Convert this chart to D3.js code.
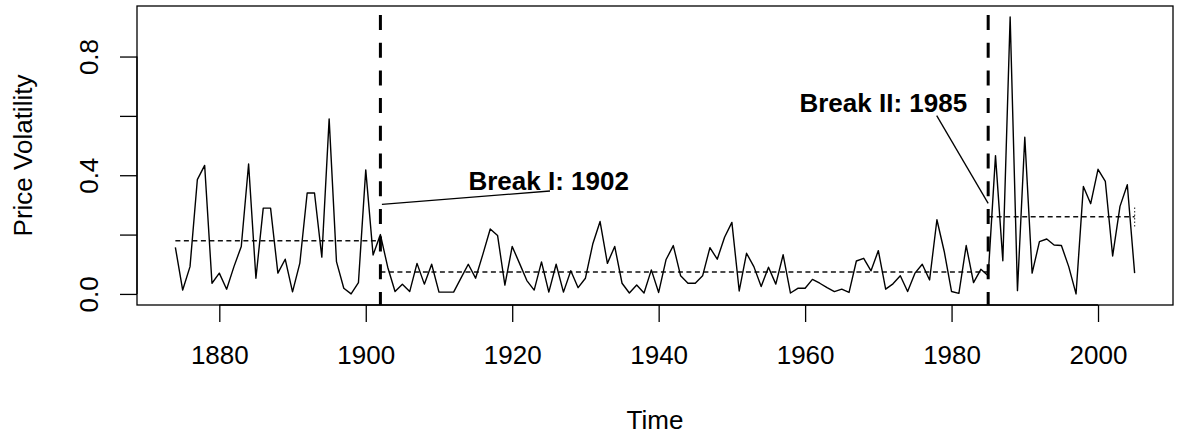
<!DOCTYPE html>
<html>
<head>
<meta charset="utf-8">
<script src="https://cdn.jsdelivr.net/npm/d3@7"></script>
<style>
  html, body { margin: 0; padding: 0; background: #fff; }
  svg { display: block; }
  text { font-family: "Liberation Sans", Arial, Helvetica, sans-serif; fill: #000; }
</style>
</head>
<body>
<svg id="chart" width="1181" height="438"></svg>
<script>
// ---- data ----
const startYear = 1874;
const volatility = [
  0.157, 0.013, 0.092, 0.385, 0.433, 0.036, 0.070, 0.016, 0.092, 0.160, // 1874-1883
  0.438, 0.053, 0.289, 0.289, 0.070, 0.117, 0.007, 0.104, 0.340, 0.340, // 1884-1893
  0.124, 0.590, 0.109, 0.019, 0.000, 0.038, 0.418, 0.131, 0.200, 0.090, // 1894-1903
  0.008, 0.033, 0.008, 0.103, 0.033, 0.100, 0.006, 0.006, 0.006, 0.053, // 1904-1913
  0.100, 0.053, 0.134, 0.219, 0.197, 0.030, 0.160, 0.103, 0.045, 0.013, // 1914-1923
  0.108, 0.006, 0.100, 0.006, 0.078, 0.021, 0.053, 0.168, 0.244, 0.103, // 1924-1933
  0.160, 0.036, 0.003, 0.030, 0.003, 0.081, 0.005, 0.115, 0.163, 0.061, // 1934-1943
  0.036, 0.036, 0.061, 0.156, 0.117, 0.191, 0.241, 0.010, 0.137, 0.092, // 1944-1953
  0.025, 0.090, 0.033, 0.132, 0.003, 0.019, 0.019, 0.049, 0.036, 0.021, // 1954-1963
  0.008, 0.016, 0.005, 0.111, 0.120, 0.078, 0.146, 0.016, 0.034, 0.061, // 1964-1973
  0.008, 0.070, 0.100, 0.047, 0.250, 0.143, 0.008, 0.002, 0.163, 0.038, // 1974-1983
  0.083, 0.061, 0.466, 0.112, 0.933, 0.011, 0.528, 0.070, 0.176, 0.185, // 1984-1993
  0.165, 0.163, 0.092, 0.000, 0.362, 0.304, 0.420, 0.379, 0.128, 0.295, // 1994-2003
  0.368, 0.070                                                          // 2004-2005
];
const breakYears = [1902, 1985];
const breakLabels = ["Break I: 1902", "Break II: 1985"];
const segmentStarts = [1874, 1902, 1985];
const segmentEnds = [1902, 1985, 2005];
const segmentMeans = [0.179, 0.074, 0.260];
const endBand = [0.227, 0.294];   // small dotted interval at the last year
const xTicks = [1880, 1900, 1920, 1940, 1960, 1980, 2000];
const yTicks = [0.0, 0.2, 0.4, 0.6, 0.8];
const yTickLabels = ["0.0", "", "0.4", "", "0.8"];
const xTitle = "Time";
const yTitle = "Price Volatility";

// ---- layout ----
const box = { left: 137, right: 1173, top: 6, bottom: 305 };
const series = volatility.map((v, i) => ({ year: startYear + i, value: v }));

const xPad = (series[series.length - 1].year - startYear) * 0.04;
const x = d3.scaleLinear()
  .domain([startYear - xPad, series[series.length - 1].year + xPad])
  .range([box.left, box.right]);
const yMax = d3.max(volatility), yMin = d3.min(volatility);
const yPad = (yMax - yMin) * 0.04;
const y = d3.scaleLinear()
  .domain([yMin - yPad, yMax + yPad])
  .range([box.bottom, box.top]);

const svg = d3.select("#chart");
const fs = 26;

// plot frame
svg.append("rect")
  .attr("x", box.left).attr("y", box.top)
  .attr("width", box.right - box.left).attr("height", box.bottom - box.top)
  .attr("fill", "none").attr("stroke", "#000").attr("stroke-width", 1.3);

// x axis
const xAxis = svg.append("g").attr("transform", `translate(0,${box.bottom})`)
  .call(d3.axisBottom(x).tickValues(xTicks).tickFormat(d3.format("d")).tickSize(17).tickPadding(24));
xAxis.select(".domain").remove();
xAxis.selectAll("line").attr("stroke", "#000").attr("stroke-width", 1.3);
xAxis.selectAll("text").attr("font-size", fs).attr("font-family", null).attr("dy", "0.71em");
xAxis.append("line")
  .attr("x1", x(xTicks[0])).attr("x2", x(xTicks[xTicks.length - 1]))
  .attr("y1", 0).attr("y2", 0).attr("stroke", "#000").attr("stroke-width", 1.3);

// y axis
const yAxis = svg.append("g").attr("transform", `translate(${box.left},0)`)
  .call(d3.axisLeft(y).tickValues(yTicks).tickFormat((d, i) => yTickLabels[i]).tickSize(17).tickPadding(0));
yAxis.select(".domain").remove();
yAxis.selectAll("line").attr("stroke", "#000").attr("stroke-width", 1.3);
yAxis.selectAll("text")
  .attr("font-size", fs).attr("font-family", null)
  .attr("text-anchor", "middle").attr("dy", null).attr("x", null)
  .attr("transform", "translate(-39,0) rotate(-90)");
yAxis.append("line")
  .attr("x1", 0).attr("x2", 0)
  .attr("y1", y(yTicks[0])).attr("y2", y(yTicks[yTicks.length - 1]))
  .attr("stroke", "#000").attr("stroke-width", 1.3);

// axis titles
svg.append("text")
  .attr("x", (box.left + box.right) / 2).attr("y", 429)
  .attr("text-anchor", "middle").attr("font-size", fs).text(xTitle);
svg.append("text")
  .attr("transform", `translate(32,${(box.top + box.bottom) / 2}) rotate(-90)`)
  .attr("text-anchor", "middle").attr("font-size", fs).text(yTitle);

// segment mean lines
segmentMeans.forEach((m, i) => {
  svg.append("line")
    .attr("x1", x(segmentStarts[i])).attr("x2", x(segmentEnds[i]))
    .attr("y1", y(m)).attr("y2", y(m))
    .attr("stroke", "#111").attr("stroke-width", 1.4)
    .attr("stroke-dasharray", "5,3.5");
});
svg.append("line")
  .attr("x1", x(segmentEnds[2])).attr("x2", x(segmentEnds[2]))
  .attr("y1", y(endBand[0])).attr("y2", y(endBand[1]))
  .attr("stroke", "#444").attr("stroke-width", 1.2)
  .attr("stroke-dasharray", "1.5,2");

// series line
svg.append("path")
  .datum(series)
  .attr("fill", "none").attr("stroke", "#000").attr("stroke-width", 1.4)
  .attr("stroke-linejoin", "round")
  .attr("d", d3.line().x(d => x(d.year)).y(d => y(d.value)));

// break lines
breakYears.forEach(b => {
  svg.append("line")
    .attr("x1", x(b)).attr("x2", x(b))
    .attr("y1", box.top).attr("y2", box.bottom)
    .attr("stroke", "#000").attr("stroke-width", 3)
    .attr("stroke-dasharray", "15,12.7").attr("stroke-dashoffset", 18.7);
});

// annotations
const labelPos = [
  { tx: 548.7, ty: 189.5, lx: 550, ly: 191, px: x(breakYears[0]) + 1.5, py: 204.3 },
  { tx: 883.3, ty: 112.3, lx: 936.7, ly: 115.7, px: x(breakYears[1]), py: 203.3 }
];
breakLabels.forEach((t, i) => {
  const p = labelPos[i];
  svg.append("line")
    .attr("x1", p.lx).attr("y1", p.ly).attr("x2", p.px).attr("y2", p.py)
    .attr("stroke", "#000").attr("stroke-width", 1.3);
  svg.append("text")
    .attr("x", p.tx).attr("y", p.ty).attr("text-anchor", "middle")
    .attr("font-size", fs).attr("font-weight", "bold").text(t);
});
</script>
</body>
</html>
